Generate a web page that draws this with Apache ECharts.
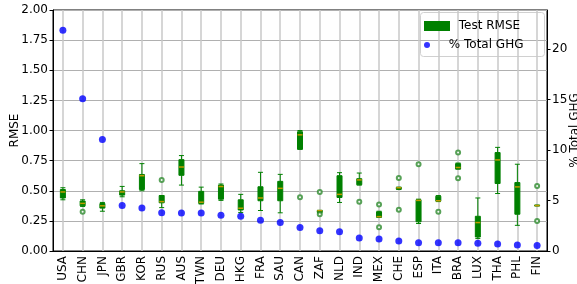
<!DOCTYPE html>
<html>
<head>
<meta charset="utf-8">
<script src="https://cdn.jsdelivr.net/npm/echarts@6/dist/echarts.min.js"></script>
<style>html,body{margin:0;padding:0;background:#fff}#c{width:577px;height:284px}</style>
</head>
<body>
<div id="c"></div>
<script>
const categories = ['USA','CHN','JPN','GBR','KOR','RUS','AUS','TWN','DEU','HKG','FRA','SAU','CAN','ZAF','NLD','IND','MEX','CHE','ESP','ITA','BRA','LUX','THA','PHL','FIN'];
// % of total GHG (right axis)
const ghgShare = [21.9,15.1,11.05,4.5,4.27,3.8,3.78,3.78,3.54,3.44,3.05,2.82,2.32,2.02,1.92,1.29,1.19,1.0,0.83,0.83,0.83,0.76,0.7,0.6,0.54];
// Test RMSE boxes: [min, Q1, median, Q3, max]
const rmseBoxes = [
  [0.425,0.44,0.49,0.51,0.525],
  [0.37,0.375,0.395,0.415,0.425],
  [0.33,0.356,0.375,0.394,0.403],
  [0.45,0.464,0.49,0.5,0.536],
  [0.5,0.51,0.625,0.635,0.725],
  [0.36,0.40,0.41,0.46,0.46],
  [0.547,0.628,0.697,0.758,0.792],
  [0.39,0.395,0.405,0.495,0.53],
  [0.42,0.43,0.535,0.547,0.556],
  [0.32,0.34,0.355,0.425,0.47],
  [0.336,0.417,0.44,0.533,0.653],
  [0.317,0.417,0.52,0.578,0.636],
  [0.844,0.845,0.964,0.99,1.0],
  [0.315,0.32,0.335,0.336,0.338],
  [0.403,0.444,0.47,0.625,0.65],
  [0.547,0.55,0.59,0.6,0.647],
  [0.28,0.28,0.285,0.325,0.33],
  [0.51,0.513,0.525,0.528,0.53],
  [0.228,0.242,0.42,0.425,0.43],
  [0.41,0.414,0.417,0.455,0.46],
  [0.68,0.68,0.693,0.725,0.73],
  [0.103,0.116,0.236,0.288,0.44],
  [0.477,0.56,0.756,0.817,0.86],
  [0.213,0.305,0.532,0.568,0.72],
  [0.374,0.375,0.377,0.38,0.381]
];
// Outliers: [category, value]
const rmseOutliers = [
  ['CHN',0.325],['RUS',0.59],['CAN',0.447],['ZAF',0.49],['ZAF',0.305],
  ['IND',0.408],['MEX',0.386],['MEX',0.197],['CHE',0.606],['CHE',0.342],
  ['ESP',0.72],['ITA',0.325],['BRA',0.817],['BRA',0.604],['FIN',0.54],['FIN',0.25]
];
const leftTicks = {min:0, max:2, step:0.25};
const rightTicks = {min:0, max:23.9, step:5};

const medians = rmseBoxes.map((b,i)=>[categories[i], b[2]]);
const font = 'DejaVu Sans';
const chart = echarts.init(document.getElementById('c'), null, {renderer:'canvas'});
chart.setOption({
  animation:false,
  textStyle:{fontFamily:font},
  grid:{left:53,right:30,top:10,bottom:33,outerBoundsMode:'none',containLabel:false,
        show:true,borderColor:'#000',borderWidth:1,backgroundColor:'transparent'},
  xAxis:{
    type:'category', data:categories, boundaryGap:true,
    axisLine:{lineStyle:{color:'#000',width:1}},
    axisTick:{alignWithLabel:true,length:3.5,lineStyle:{color:'#000'}},
    axisLabel:{rotate:90,color:'#000',fontSize:12,fontFamily:font,margin:5,interval:0},
    splitLine:{show:false}
  },
  yAxis:[{
    type:'value', min:leftTicks.min, max:leftTicks.max, interval:leftTicks.step,
    name:'RMSE', nameLocation:'middle', nameRotate:90, nameGap:32, nameMoveOverlap:false,
    nameTextStyle:{color:'#000',fontSize:12,fontFamily:font},
    axisLine:{show:true,lineStyle:{color:'#000'}},
    axisTick:{show:true,length:3.5,lineStyle:{color:'#000'}},
    axisLabel:{color:'#000',fontSize:12,fontFamily:font,margin:5,formatter:v=>v.toFixed(2)},
    splitLine:{show:true,lineStyle:{color:'#b0b0b0',width:1}}
  },{
    type:'value', min:rightTicks.min, max:rightTicks.max, interval:rightTicks.step,
    position:'right',
    name:'% Total GHG', nameLocation:'middle', nameRotate:90, nameGap:22, nameMoveOverlap:false,
    nameTextStyle:{color:'#000',fontSize:12,fontFamily:font},
    axisLine:{show:true,lineStyle:{color:'#000'}},
    axisTick:{show:true,length:3.5,lineStyle:{color:'#000'}},
    axisLabel:{color:'#000',fontSize:12,fontFamily:font,margin:5,showMaxLabel:false,
      formatter:v=>(v%5===0? String(v):'')},
    splitLine:{show:false}
  }],
  legend:[{
    data:[{name:'Test RMSE',icon:'rect',itemStyle:{color:'#008000',borderWidth:0}}],
    left:424, top:20, itemWidth:26, itemHeight:10, padding:0,
    formatter:n=>' '+n,
    textStyle:{color:'#000',fontSize:12,fontFamily:font}
  },{
    data:[{name:'% Total GHG',icon:'circle',itemStyle:{color:'#0000ff'}}],
    left:424, top:39, itemWidth:26, itemHeight:6, padding:0,
    formatter:n=>' '+n,
    textStyle:{color:'#000',fontSize:12,fontFamily:font}
  }],
  graphic:[{
    type:'rect', left:420, top:12, z:-1,
    shape:{width:124,height:44,r:3},
    style:{fill:'rgba(255,255,255,0.8)',stroke:'#d0d0d0',lineWidth:1}
  }],
  series:[{
    name:'Test RMSE', type:'boxplot', yAxisIndex:0,
    data:rmseBoxes, boxWidth:[5,5],
    itemStyle:{color:'#008000',borderColor:'#008000',borderWidth:1},
    emphasis:{disabled:true}, z:3
  },{
    name:'median', type:'scatter', yAxisIndex:0,
    data:medians, symbol:'rect', symbolSize:[5,1.5],
    itemStyle:{color:'#f0a000'}, z:4, silent:true
  },{
    name:'outliers', type:'scatter', yAxisIndex:0,
    data:rmseOutliers, symbol:'emptyCircle', symbolSize:4,
    itemStyle:{color:'#2e8b2e',borderColor:'#2e8b2e',borderWidth:1}, z:4, silent:true
  },{
    name:'% Total GHG', type:'scatter', yAxisIndex:1,
    data:ghgShare, symbol:'circle', symbolSize:7,
    itemStyle:{color:'#0000ff'}, z:5,
    markLine:{
      silent:true, symbol:['none','none'], z:1,
      label:{show:false},
      lineStyle:{color:'#c8c8c8',width:1.5,type:'solid'},
      emphasis:{disabled:true},
      data:categories.map(c=>({xAxis:c}))
    }
  }]
});
</script>
</body>
</html>
